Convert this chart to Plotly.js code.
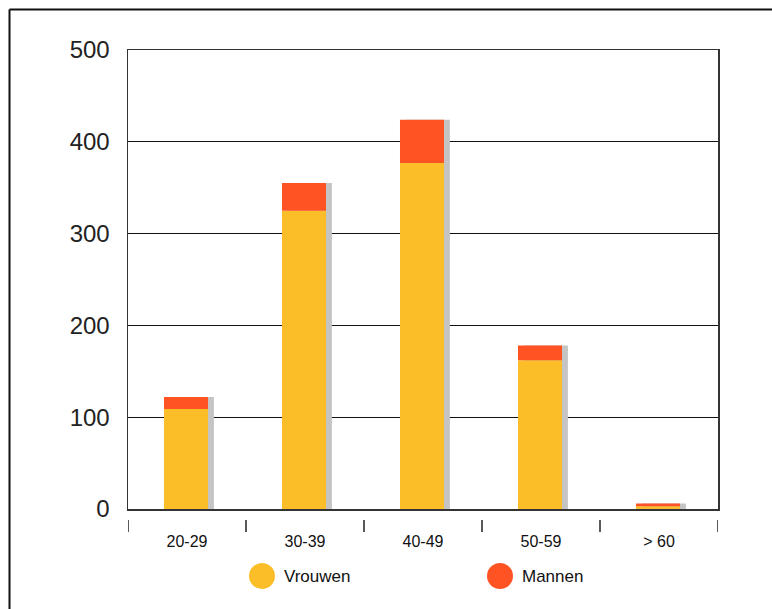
<!DOCTYPE html>
<html>
<head>
<meta charset="utf-8">
<script src="https://cdn.plot.ly/plotly-3.0.1.min.js"></script>
<style>html,body{margin:0;padding:0;background:#fff;}#chart{width:772px;height:609px;}</style>
</head>
<body>
<div id="chart"></div>
<script>
// Data
var categories = ["20-29", "30-39", "40-49", "50-59", "> 60"];
var vrouwen = [109, 325, 377, 162, 3];
var mannen = [13, 30, 47, 16, 3];
var seriesNames = ["Vrouwen", "Mannen"];
var yTicks = [0, 100, 200, 300, 400, 500];

var totals = vrouwen.map(function (v, i) { return v + mannen[i]; });

var colV = "#FCBE28";
var colM = "#FF5324";
var colShadow = "#C4C4C4";
var font = "Liberation Sans, Arial, Helvetica, sans-serif";

var barW = 0.373;
var barOff = -0.195;

var traces = [
  { type: "bar", x: categories, y: totals, width: barW, offset: barOff + 0.05,
    marker: { color: colShadow, line: { width: 0 } }, showlegend: false, hoverinfo: "skip" },
  { type: "bar", name: seriesNames[0], x: categories, y: vrouwen, width: barW, offset: barOff,
    marker: { color: colV, line: { width: 0 } } },
  { type: "bar", name: seriesNames[1], x: categories, y: mannen, base: vrouwen, width: barW, offset: barOff,
    marker: { color: colM, line: { width: 0 } } }
];

// plot area in pixels: l=128, r=718, t=50, b=509
var W = 772, H = 609, L = 128, R = 718, T = 50, B = 509;
function px(x) { return (x - L) / (R - L); }
function py(y) { return (B - y) / (B - T); }

var shapes = [];
// category boundary ticks below the axis
for (var i = 0; i <= categories.length; i++) {
  shapes.push({ type: "line", xref: "x", yref: "paper", x0: i - 0.5, x1: i - 0.5,
    y0: py(520), y1: py(532), line: { color: "#222", width: 1.5 } });
}
// outer frame (left and top edges)
shapes.push({ type: "line", xref: "paper", yref: "paper", x0: px(9.5), x1: px(9.5), y0: py(620), y1: py(9.5), line: { color: "#111", width: 2 } });
shapes.push({ type: "line", xref: "paper", yref: "paper", x0: px(9.5), x1: px(790), y0: py(9.5), y1: py(9.5), line: { color: "#111", width: 2 } });
// legend circles
var legendItems = [
  { cx: 262, text: seriesNames[0], color: colV },
  { cx: 500, text: seriesNames[1], color: colM }
];
var annotations = [];
legendItems.forEach(function (it) {
  shapes.push({ type: "circle", xref: "paper", yref: "paper",
    x0: px(it.cx - 13), x1: px(it.cx + 13), y0: py(589), y1: py(563),
    fillcolor: it.color, line: { width: 0 } });
  annotations.push({ xref: "paper", yref: "paper", x: px(it.cx + 20), y: py(576),
    xanchor: "left", yanchor: "middle", showarrow: false, text: it.text,
    font: { family: font, size: 17, color: "#111" } });
});

var layout = {
  width: W, height: H,
  margin: { l: L, r: W - R, t: T, b: H - B, pad: 0 },
  paper_bgcolor: "#fff", plot_bgcolor: "#fff",
  barmode: "overlay",
  showlegend: false,
  font: { family: font, color: "#111" },
  xaxis: {
    type: "category", range: [-0.5, categories.length - 0.5],
    showline: true, mirror: true, linecolor: "#333", linewidth: 1.5,
    showgrid: false, zeroline: false,
    ticks: "outside", ticklen: 17, tickcolor: "rgba(0,0,0,0)",
    tickfont: { family: font, size: 16, color: "#111" }
  },
  yaxis: {
    range: [0, 500], tickvals: yTicks, ticktext: yTicks.map(String),
    showline: true, mirror: true, linecolor: "#333", linewidth: 1.5,
    showgrid: true, gridcolor: "#111", gridwidth: 1, zeroline: false,
    ticks: "outside", ticklen: 12, tickcolor: "rgba(0,0,0,0)",
    tickfont: { family: font, size: 24, color: "#222" }
  },
  shapes: shapes,
  annotations: annotations
};

Plotly.newPlot("chart", traces, layout, { staticPlot: true, displayModeBar: false });
</script>
</body>
</html>
